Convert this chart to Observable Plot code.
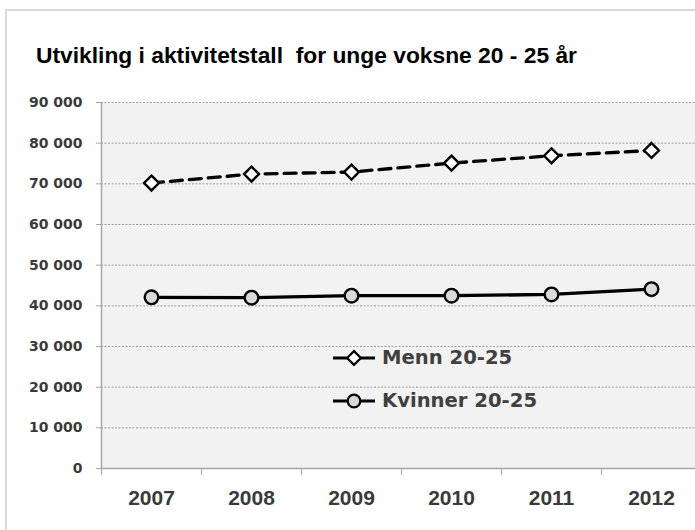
<!DOCTYPE html>
<html>
<head>
<meta charset="utf-8">
<script src="https://cdn.jsdelivr.net/npm/d3@7"></script>
<script src="https://cdn.jsdelivr.net/npm/@observablehq/plot@0.6"></script>
<style>
html, body { margin:0; padding:0; background:#fff; width:695px; height:530px; overflow:hidden; }
body { position:relative; }
#border { position:absolute; left:5px; top:9px; width:800px; height:600px; border-left:2px solid #d9d9d9; border-top:2px solid #d9d9d9; box-sizing:border-box; }
#title { position:absolute; left:36px; top:44px; font-family:"Liberation Sans", Arial, sans-serif; font-weight:bold; font-size:22.8px; line-height:22.8px; color:#000; white-space:pre; }
#chart { position:absolute; left:0; top:0; }
.lg { position:absolute; left:333px; height:24px; display:flex; align-items:center; }
.lg span { font-family:"DejaVu Sans", sans-serif; font-weight:bold; font-size:19.6px; line-height:24px; color:#404040; margin-left:5px; white-space:pre; }
</style>
</head>
<body>
<div id="border"></div>
<div id="title">Utvikling i aktivitetstall  for unge voksne 20 - 25 år</div>
<div id="chart"></div>
<script>
const years = [2007, 2008, 2009, 2010, 2011, 2012];
const menn = [70200, 72400, 72900, 75100, 76900, 78200];
const kvinner = [42100, 42000, 42500, 42500, 42800, 44100];
const seriesNames = ["Menn 20-25", "Kvinner 20-25"];
const yTicks = [0, 10000, 20000, 30000, 40000, 50000, 60000, 70000, 80000, 90000];

const fmt = d => d3.format(",")(d).replace(/,/g, " ");
const rowsM = years.map((yr, i) => ({year: yr, value: menn[i]}));
const rowsK = years.map((yr, i) => ({year: yr, value: kvinner[i]}));
const xDomain = [years[0] - 0.5, years[years.length - 1] + 0.5];
const bounds = years.map(y => y - 0.5);

const plot = Plot.plot({
  width: 695,
  height: 530,
  marginLeft: 101,
  marginRight: 0,
  marginTop: 102,
  marginBottom: 62,
  style: {background: "transparent", overflow: "visible"},
  x: {type: "linear", domain: xDomain, range: [101, 701]},
  y: {domain: [0, 90000]},
  marks: [
    Plot.frame({fill: "#f2f2f2", stroke: null}),
    Plot.gridY(yTicks.filter(d => d > 0), {stroke: "#9c9c9c", strokeOpacity: 1, strokeDasharray: "2,1.5", strokeWidth: 1}),
    Plot.ruleY([0], {stroke: "#a6a6a6", strokeWidth: 1.5}),
    Plot.ruleX([xDomain[0]], {y1: 0, y2: 90000, stroke: "#a6a6a6", strokeWidth: 1.5}),
    Plot.axisY(yTicks, {anchor: "left", tickSize: 5, tickPadding: 14, tickFormat: fmt, label: null,
      stroke: "#a6a6a6", fill: "#3a3a3a", fontFamily: "DejaVu Sans", fontWeight: "bold", fontSize: 14}),
    Plot.axisX(bounds, {anchor: "bottom", tickSize: 7, tickFormat: () => "", label: null, stroke: "#a6a6a6"}),
    Plot.axisX(years, {anchor: "bottom", tickSize: 0, tickPadding: 22, tickFormat: d => String(d), label: null,
      fill: "#3a3a3a", fontFamily: "Liberation Sans", fontWeight: "bold", fontSize: 21}),
    Plot.line(rowsM, {x: "year", y: "value", stroke: "#000", strokeWidth: 3.3, strokeDasharray: "12,7"}),
    Plot.dot(rowsM, {x: "year", y: "value", symbol: "diamond2", r: 6.7, fill: "#fff", stroke: "#000", strokeWidth: 2.4}),
    Plot.line(rowsK, {x: "year", y: "value", stroke: "#000", strokeWidth: 3.3}),
    Plot.dot(rowsK, {x: "year", y: "value", r: 6.8, fill: "#d9d9d9", stroke: "#000", strokeWidth: 2.4})
  ]
});
document.getElementById("chart").appendChild(plot);

// legend
const legendCenters = [358, 401];
const symbols = [
  {path: d3.symbol(d3.symbolDiamond2, Math.PI * 6.2 * 6.2)(), fill: "#fff"},
  {path: d3.symbol(d3.symbolCircle, Math.PI * 6.3 * 6.3)(), fill: "#d9d9d9"}
];
seriesNames.forEach((name, i) => {
  const row = document.createElement("div");
  row.className = "lg";
  row.style.top = (legendCenters[i] - 12) + "px";
  row.innerHTML = `<svg width="44" height="24" style="overflow:visible"><line x1="0" x2="42" y1="12" y2="12" stroke="#000" stroke-width="3"/><path transform="translate(21,12)" d="${symbols[i].path}" fill="${symbols[i].fill}" stroke="#000" stroke-width="2.2"/></svg><span>${name}</span>`;
  document.body.appendChild(row);
});
</script>
</body>
</html>
